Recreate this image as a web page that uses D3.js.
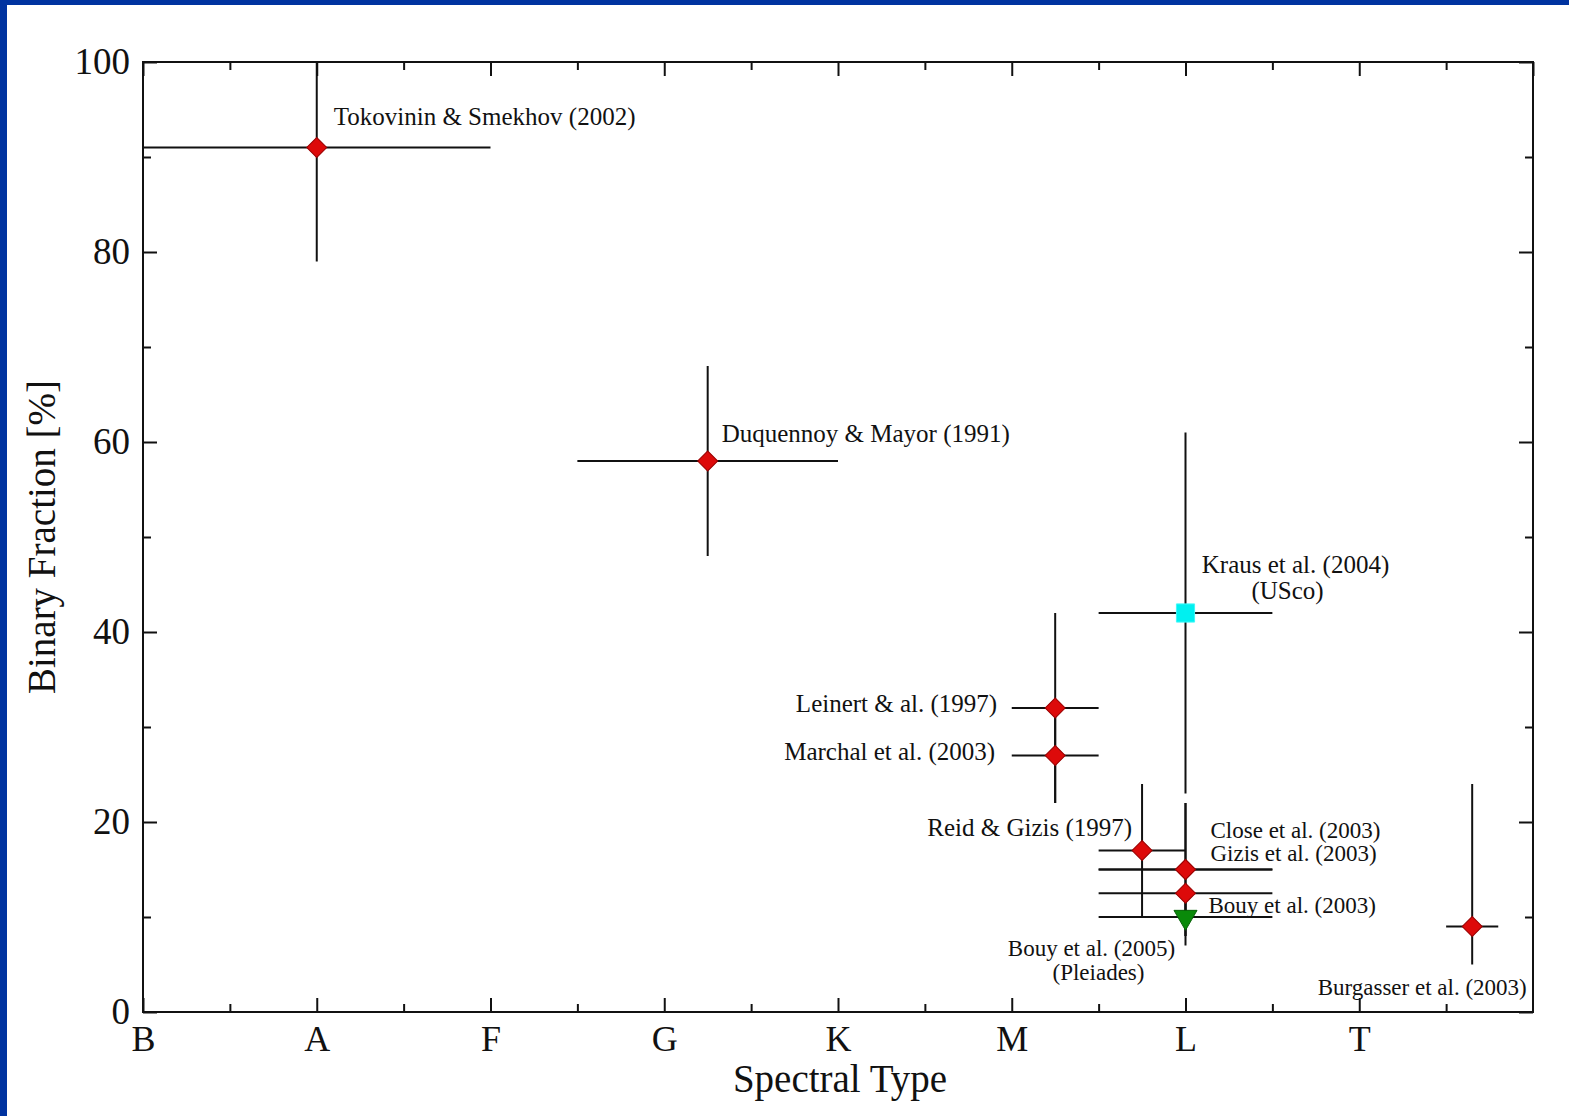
<!DOCTYPE html>
<html>
<head>
<meta charset="utf-8">
<script src="https://cdn.jsdelivr.net/npm/d3@7"></script>
<style>
  html, body { margin: 0; padding: 0; background: #fff; }
  svg text { font-family: "Liberation Serif", "DejaVu Serif", serif; fill: #111; }
</style>
</head>
<body>
<div id="chart-container"></div>
<script>
// Spectral type axis: B=0, A=1, ... T=7
const spectralTypes = ["B", "A", "F", "G", "K", "M", "L", "T"];
const yTickValues = [0, 20, 40, 60, 80, 100];

// Surveys
const studies = [
  "Tokovinin & Smekhov (2002)", "Duquennoy & Mayor (1991)", "Kraus et al. (2004)|(USco)",
  "Leinert & al. (1997)", "Marchal et al. (2003)", "Reid & Gizis (1997)",
  "Close et al. (2003)", "Gizis et al. (2003)", "Bouy et al. (2003)",
  "Bouy et al. (2005)|(Pleiades)", "Burgasser et al. (2003)"
];
const spType    = [1,   3.25, 6,   5.25, 5.25, 5.75, 6,   6,   6,    6,   7.65];
const spTypeLo  = [0,   2.5,  5.5, 5.0,  5.0,  5.5,  5.5, 5.5, 5.5,  5.5, 7.5];
const spTypeHi  = [2,   4.0,  6.5, 5.5,  5.5,  6.0,  6.5, 6.5, 6.5,  6.5, 7.8];
const binFrac   = [91,  58,   42,  32,   27,   17,   15,  15,  12.5, 10,  9];
const binFracLo = [79,  48,   23,  22,   22,   10,   8,   8,   12.5, 7,   5];
const binFracHi = [103, 68,   61,  42,   32,   24,   22,  22,  12.5, 13,  24];
const markerKind = ["d", "d", "s", "d", "d", "d", "d", "d", "d", "t", "d"];

// label placement relative to each point (pixels), anchor and size
const labelDx = [17, 14, 110, -58, -60, -10, 25, 25, 23, -94, -50];
const labelDy = [-32, -28, -49, -5, -5, -24, -40, -17, 12, 31, 60];
const labelAnchor = ["start", "start", "middle", "end", "end", "end", "start", "start", "start", "middle", "middle"];
const labelSize = [25, 25, 25, 25, 25, 25, 23, 23, 23, 23, 23];

const W = 1569, H = 1116;
const svg = d3.select("#chart-container").append("svg")
  .attr("width", W).attr("height", H);

// blue frame of the slide
svg.append("rect").attr("x", 0).attr("y", 0).attr("width", W).attr("height", 5).attr("fill", "#0033a0");
svg.append("rect").attr("x", 0).attr("y", 0).attr("width", 7).attr("height", H).attr("fill", "#0033a0");

const plotLeft = 143, plotRight = 1533, plotTop = 62, plotBottom = 1012;
const x = d3.scaleLinear().domain([0, 8]).range([plotLeft, plotRight]);
const y = d3.scaleLinear().domain([0, 100]).range([plotBottom, plotTop]);

const xMajor = d3.range(0, 9, 1);
const xMinor = d3.range(0.5, 8, 1);
const yMajor = d3.range(0, 101, 20);
const yMinor = d3.range(10, 100, 20);

function styleAxis(g) {
  g.select(".domain").remove();
  g.selectAll("line").attr("stroke", "#111").attr("stroke-width", 2);
}

// bottom axis
svg.append("g").attr("transform", `translate(0,${plotBottom})`)
  .call(d3.axisBottom(x).tickValues(xMajor.slice(0, 8)).tickSize(-14).tickPadding(7)
    .tickFormat(d => spectralTypes[d]))
  .call(styleAxis)
  .selectAll("text").attr("font-size", 36).attr("dy", "0.9em");
svg.append("g").attr("transform", `translate(0,${plotBottom})`)
  .call(d3.axisBottom(x).tickValues(xMinor).tickSize(-8).tickFormat(""))
  .call(styleAxis);

// top axis
svg.append("g").attr("transform", `translate(0,${plotTop})`)
  .call(d3.axisTop(x).tickValues(xMajor).tickSize(-14).tickFormat(""))
  .call(styleAxis);
svg.append("g").attr("transform", `translate(0,${plotTop})`)
  .call(d3.axisTop(x).tickValues(xMinor).tickSize(-8).tickFormat(""))
  .call(styleAxis);

// left axis
svg.append("g").attr("transform", `translate(${plotLeft},0)`)
  .call(d3.axisLeft(y).tickValues(yTickValues).tickSize(-14).tickPadding(13).tickFormat(d3.format("d")))
  .call(styleAxis)
  .selectAll("text").attr("font-size", 37);
svg.append("g").attr("transform", `translate(${plotLeft},0)`)
  .call(d3.axisLeft(y).tickValues(yMinor).tickSize(-8).tickFormat(""))
  .call(styleAxis);

// right axis
svg.append("g").attr("transform", `translate(${plotRight},0)`)
  .call(d3.axisRight(y).tickValues(yMajor).tickSize(-14).tickFormat(""))
  .call(styleAxis);
svg.append("g").attr("transform", `translate(${plotRight},0)`)
  .call(d3.axisRight(y).tickValues(yMinor).tickSize(-8).tickFormat(""))
  .call(styleAxis);

// frame
svg.append("rect")
  .attr("x", plotLeft).attr("y", plotTop)
  .attr("width", plotRight - plotLeft).attr("height", plotBottom - plotTop)
  .attr("fill", "none").attr("stroke", "#111").attr("stroke-width", 2);

// axis titles
svg.append("text")
  .attr("x", (plotLeft + plotRight) / 2 + 2).attr("y", 1092)
  .attr("text-anchor", "middle").attr("font-size", 39)
  .text("Spectral Type");
svg.append("text")
  .attr("transform", "translate(55,537) rotate(-90)")
  .attr("text-anchor", "middle").attr("font-size", 39)
  .text("Binary Fraction [%]");

const idx = d3.range(studies.length);
const clampY = v => y(Math.min(100, Math.max(0, v)));

// error bars
const bars = svg.append("g").attr("stroke", "#111").attr("stroke-width", 2);
bars.selectAll(".xerr").data(idx).enter().append("line")
  .attr("x1", i => x(spTypeLo[i])).attr("x2", i => x(spTypeHi[i]))
  .attr("y1", i => y(binFrac[i])).attr("y2", i => y(binFrac[i]));
bars.selectAll(".yerr").data(idx.filter(i => binFracLo[i] !== binFracHi[i])).enter().append("line")
  .attr("x1", i => x(spType[i])).attr("x2", i => x(spType[i]))
  .attr("y1", i => clampY(binFracLo[i])).attr("y2", i => clampY(binFracHi[i]));

// markers
const symbolFor = k => k === "t" ? d3.symbol(d3.symbolTriangle, 230)
  : k === "s" ? d3.symbol(d3.symbolSquare, 330) : d3.symbol(d3.symbolSquare, 200);
svg.append("g").selectAll("path").data(idx).enter().append("path")
  .attr("d", i => symbolFor(markerKind[i])())
  .attr("transform", i => {
    const k = markerKind[i];
    const rot = k === "d" ? 45 : k === "t" ? 180 : 0;
    return `translate(${x(spType[i])},${y(binFrac[i])}) rotate(${rot})`;
  })
  .attr("fill", i => markerKind[i] === "s" ? "#00f0f0" : markerKind[i] === "t" ? "#0a8a0a" : "#dd0a0a")
  .attr("stroke", i => markerKind[i] === "s" ? "#40f8f8" : markerKind[i] === "t" ? "#066006" : "#9a0000")
  .attr("stroke-width", 1);

// labels
const labels = svg.append("g").selectAll("text").data(idx).enter().append("text")
  .attr("font-size", i => labelSize[i])
  .attr("text-anchor", i => labelAnchor[i])
  .attr("x", i => x(spType[i]) + labelDx[i])
  .attr("y", i => y(binFrac[i]) + labelDy[i])
  .attr("dominant-baseline", "central");
labels.each(function(i) {
  const lines = studies[i].split("|");
  const t = d3.select(this);
  lines.forEach((ln, j) => {
    t.append("tspan")
      .attr("x", x(spType[i]) + labelDx[i] + (j > 0 && i === 2 ? -8 : 0) + (j > 0 && i === 9 ? 7 : 0))
      .attr("dy", j === 0 ? 0 : labelSize[i] + 1)
      .text(ln);
  });
});
</script>
</body>
</html>
